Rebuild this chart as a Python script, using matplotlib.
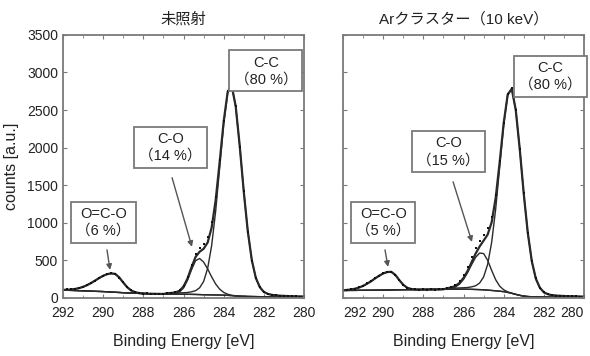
import numpy as np
import matplotlib.pyplot as plt

plt.rcParams['font.family'] = ['Liberation Sans', 'Noto Sans CJK JP']

## Data
# binding energy grid, 292 -> 280 eV in 0.2 eV steps
energy = np.linspace(292.0, 280.0, 61)

# ---- untreated (left)
bg_left = [105, 103, 101, 99, 97, 95, 93, 91, 89, 87, 85, 82, 79, 76, 73, 70, 67, 65, 63, 61,
           59, 57, 56, 55, 54, 53, 52, 52, 51, 50, 50, 49, 48, 47, 45, 43, 42, 41, 40, 39,
           38, 35, 31, 27, 24, 22, 20, 19, 18, 17, 16, 15, 14, 13, 12, 12, 11, 11, 10, 10, 10]
oco_left = [3, 6, 12, 21, 34, 53, 78, 108, 143, 178, 210, 235, 248, 244, 200, 135, 75, 34, 13, 4,
            1, 0, 0, 0, 0, 0, 0, 0, 0, 0, 0, 0, 0, 0, 0, 0, 0, 0, 0, 0,
            0, 0, 0, 0, 0, 0, 0, 0, 0, 0, 0, 0, 0, 0, 0, 0, 0, 0, 0, 0, 0]
co_left = [0, 0, 0, 0, 0, 0, 0, 0, 0, 0, 0, 0, 0, 0, 0, 0, 0, 0, 0, 0,
           0, 0, 0, 0, 0, 0, 0, 2, 8, 29, 83, 187, 329, 449, 480, 435, 345, 240, 146, 78,
           36, 15, 5, 2, 0, 0, 0, 0, 0, 0, 0, 0, 0, 0, 0, 0, 0, 0, 0, 0, 0]
cc_left = [0, 0, 0, 0, 0, 0, 0, 0, 0, 0, 0, 0, 0, 0, 0, 0, 0, 0, 0, 0,
           0, 0, 0, 0, 0, 0, 11, 13, 15, 17, 20, 24, 34, 50, 90, 176, 350, 655, 1114, 1694,
           2276, 2694, 2789, 2517, 1994, 1392, 868, 484, 249, 126, 64, 39, 27, 22, 18, 16, 14, 12, 11, 10, 9]
meas_left = [112, 118, 115, 126, 128, 152, 168, 205, 228, 270, 292, 322, 330, 318, 270, 210, 140, 102, 78, 66,
             58, 60, 54, 57, 52, 55, 62, 70, 78, 104, 165, 280, 440, 580, 660, 720, 810, 1010, 1340, 1830,
             2360, 2760, 2975, 2560, 2010, 1420, 880, 495, 270, 140, 84, 52, 44, 33, 31, 26, 27, 22, 24, 19, 21]

# ---- Ar cluster 10 keV (right)
bg_right = [100, 100, 101, 101, 102, 102, 103, 103, 104, 104, 105, 106, 107, 108, 109, 110, 110, 111, 111, 112,
            112, 113, 113, 114, 114, 115, 115, 116, 116, 117, 117, 116, 115, 113, 111, 108, 105, 100, 95, 90,
            84, 74, 62, 48, 35, 25, 19, 16, 14, 13, 12, 12, 11, 11, 11, 10, 10, 10, 10, 10, 10]
oco_right = [3, 7, 12, 22, 37, 59, 87, 120, 157, 192, 221, 239, 241, 200, 129, 65, 25, 8, 2, 0,
             0, 0, 0, 0, 0, 0, 0, 0, 0, 0, 0, 0, 0, 0, 0, 0, 0, 0, 0, 0,
             0, 0, 0, 0, 0, 0, 0, 0, 0, 0, 0, 0, 0, 0, 0, 0, 0, 0, 0, 0, 0]
co_right = [0, 0, 0, 0, 0, 0, 0, 0, 0, 0, 0, 0, 0, 0, 0, 0, 0, 0, 0, 0,
            0, 0, 0, 0, 0, 1, 4, 12, 30, 67, 130, 220, 327, 427, 487, 483, 397, 267, 148, 67,
            25, 7, 2, 0, 0, 0, 0, 0, 0, 0, 0, 0, 0, 0, 0, 0, 0, 0, 0, 0, 0]
cc_right = [0, 0, 0, 0, 0, 0, 0, 0, 0, 0, 0, 0, 0, 0, 0, 0, 0, 0, 0, 0,
            0, 0, 0, 0, 0, 0, 11, 13, 15, 17, 19, 23, 33, 49, 87, 172, 341, 639, 1087, 1652,
            2219, 2626, 2719, 2454, 1944, 1357, 846, 472, 243, 123, 63, 38, 26, 21, 18, 16, 13, 12, 11, 9, 8]
meas_right = [108, 104, 118, 120, 144, 158, 195, 220, 266, 292, 330, 342, 352, 305, 242, 172, 138, 116, 115, 110,
              114, 111, 115, 112, 116, 118, 132, 150, 178, 225, 300, 410, 540, 660, 760, 840, 930, 1080, 1370, 1820,
              2330, 2710, 2790, 2500, 1985, 1390, 860, 490, 262, 134, 78, 48, 40, 30, 31, 24, 25, 20, 23, 18, 20]

titles = ['未照射', 'Arクラスター（10 keV）']
labels_left = ['C-C\n（80 %）', 'C-O\n（14 %）', 'O=C-O\n（6 %）']
labels_right = ['C-C\n（80 %）', 'C-O\n（15 %）', 'O=C-O\n（5 %）']

# label box centres / arrow ends, in data units (E, counts)
box_pos_left = [(281.9, 3020), (286.65, 2000), (289.98, 1005)]
box_pos_right = [(281.67, 2950), (286.75, 1945), (290.0, 1005)]
arrows_left = [((286.57, 1600), (285.58, 680)), ((289.81, 640), (289.66, 373))]
arrows_right = [((286.52, 1545), (285.58, 745)), ((289.91, 640), (289.76, 413))]

line_c = '#2a2a2a'
frame_c = '#7a7a7a'


def panel(ax, bg, oco, co, cc, meas, title, labels, box_pos, arrows, show_y):
    bg = np.array(bg)
    env = bg + np.array(oco) + np.array(co) + np.array(cc)
    ax.plot(energy, bg, color=line_c, lw=1.0)
    for comp in (oco, co, cc):
        ax.plot(energy, bg + np.array(comp), color=line_c, lw=1.0)
    ax.plot(energy, env, color=line_c, lw=1.6)
    ax.plot(energy, meas, ls='none', marker='s', ms=2.0, color='#111111', mew=0)

    ax.set_xlim(292, 280)
    ax.set_ylim(0, 3500)
    ax.set_xticks(np.arange(280, 293, 2))
    ax.set_xticks(np.arange(280, 293, 1), minor=True)
    ax.set_yticks(np.arange(0, 3501, 500))
    ax.tick_params(which='both', direction='in', top=True, right=True,
                   color=frame_c, labelsize=10, labelcolor='#222222')
    ax.tick_params(axis='x', which='both', pad=6)
    ax.tick_params(which='major', length=3)
    ax.tick_params(which='minor', length=2)
    if not show_y:
        ax.set_yticklabels([])
    for s in ax.spines.values():
        s.set_color(frame_c)
        s.set_linewidth(1.3)
    ax.set_title(title, fontsize=11, pad=8, color='#222222')
    ax.set_xlabel('Binding Energy [eV]', fontsize=11.5, labelpad=10, color='#222222')

    for txt, (x, y) in zip(labels, box_pos):
        ax.text(x, y, txt, ha='center', va='center', fontsize=10.5, color='#222222',
                linespacing=1.25,
                bbox=dict(boxstyle='square,pad=0.35', fc='white', ec=frame_c, lw=1.3))
    for (x0, y0), (x1, y1) in arrows:
        ax.annotate('', xy=(x1, y1), xytext=(x0, y0),
                    arrowprops=dict(arrowstyle='-|>', color='#555555', lw=1.0,
                                    mutation_scale=8, shrinkA=0, shrinkB=0))


fig = plt.figure(figsize=(5.9, 3.56), dpi=100)
ax1 = fig.add_axes([0.1068, 0.163, 0.4085, 0.739])
ax2 = fig.add_axes([0.5814, 0.163, 0.4085, 0.739])

panel(ax1, bg_left, oco_left, co_left, cc_left, meas_left, titles[0], labels_left,
      box_pos_left, arrows_left, True)
panel(ax2, bg_right, oco_right, co_right, cc_right, meas_right, titles[1], labels_right,
      box_pos_right, arrows_right, False)
ax1.set_ylabel('counts [a.u.]', fontsize=11.5, color='#222222', labelpad=6)

# outer labels of the right panel sit inside the frame, as in the original
xl = ax2.get_xticklabels()
xl[0].set_ha('right')
xl[-1].set_ha('left')

fig.savefig('out.png', dpi=100)
